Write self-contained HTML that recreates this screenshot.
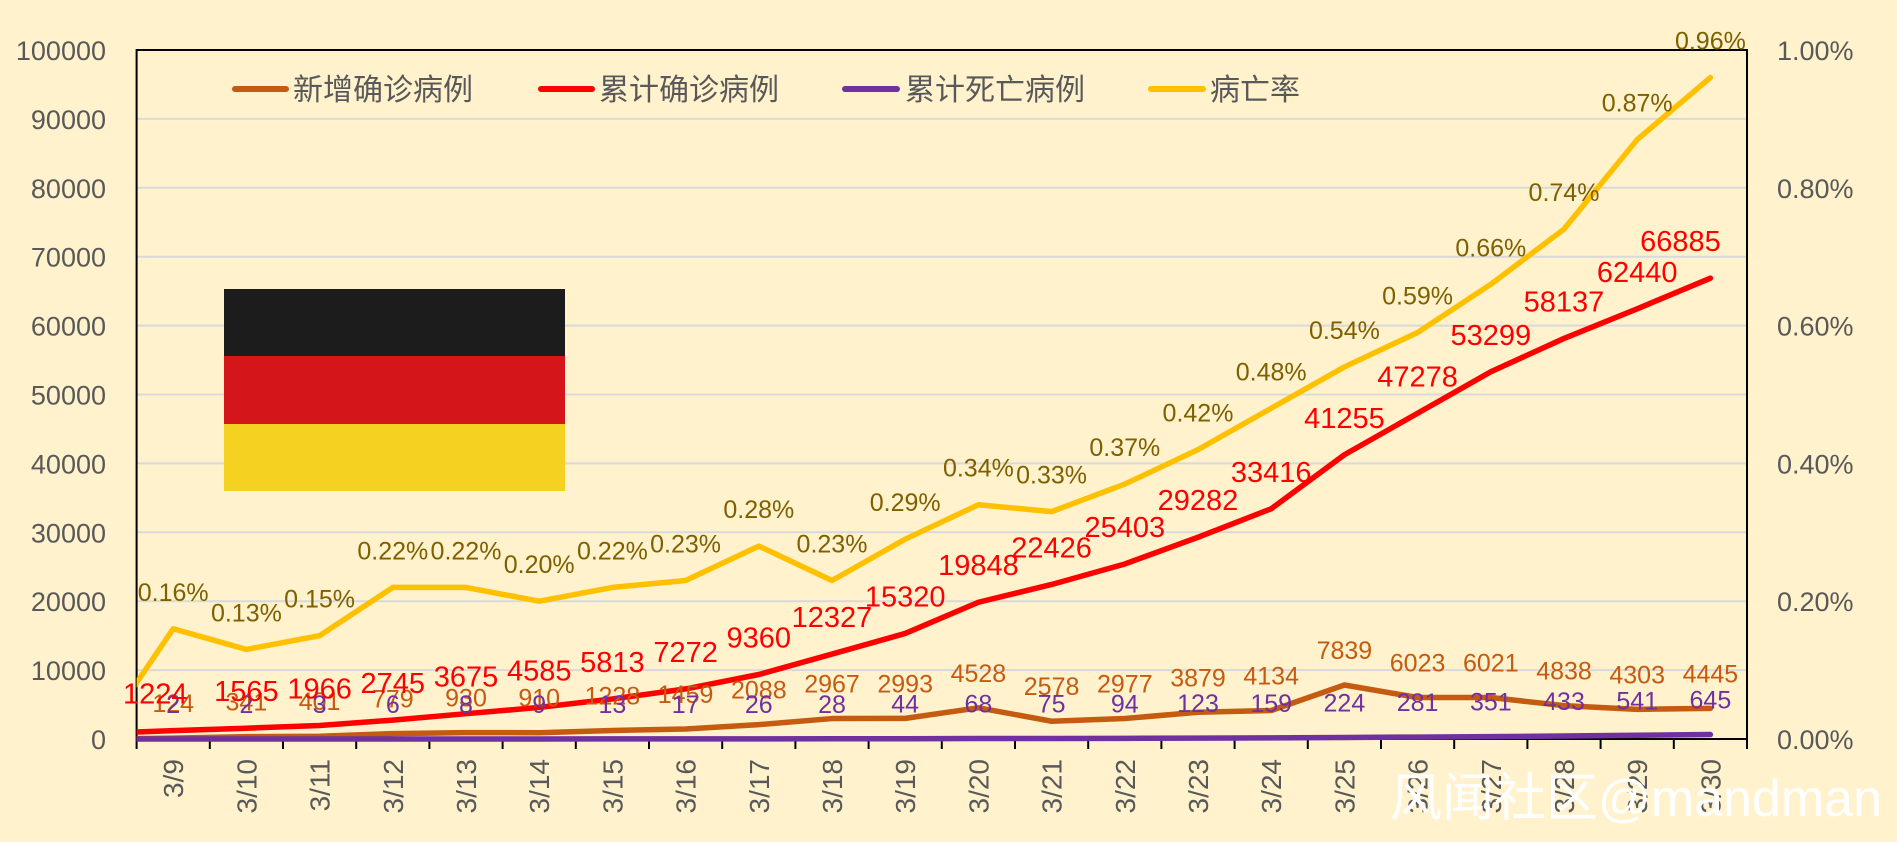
<!DOCTYPE html>
<html><head><meta charset="utf-8"><style>
html,body{margin:0;padding:0;background:#fff2cc;}
svg{display:block;font-family:"Liberation Sans","Noto Sans CJK SC",sans-serif;}
</style></head><body>
<svg id="chart" width="1897" height="842" viewBox="0 0 1897 842" xmlns="http://www.w3.org/2000/svg">
<rect x="0" y="0" width="1897" height="842" fill="#fff2cc"/>
<g id="grid"></g>
<g id="flag">
<rect x="224" y="289" width="341" height="67" fill="#1c1c1c"/>
<rect x="224" y="356" width="341" height="68" fill="#d4161b"/>
<rect x="224" y="424" width="341" height="67" fill="#f5d222"/>
</g>
<g id="axes"></g>
<g id="series"></g>
<g id="labels"></g>
<g id="legend">
<g><line x1="235" y1="89" x2="286" y2="89" stroke="#c55a11" stroke-width="6" stroke-linecap="round"/><text x="293" y="100" font-size="30" fill="#595959">新增确诊病例</text></g>
<g><line x1="541" y1="89" x2="592" y2="89" stroke="#ff0000" stroke-width="6" stroke-linecap="round"/><text x="599" y="100" font-size="30" fill="#595959">累计确诊病例</text></g>
<g><line x1="845" y1="89" x2="897" y2="89" stroke="#7030a0" stroke-width="6" stroke-linecap="round"/><text x="905" y="100" font-size="30" fill="#595959">累计死亡病例</text></g>
<g><line x1="1151" y1="89" x2="1203" y2="89" stroke="#ffc000" stroke-width="6" stroke-linecap="round"/><text x="1210" y="100" font-size="30" fill="#595959">病亡率</text></g>
</g>
<text x="1882" y="816" text-anchor="end" font-size="52" fill="#ffffff">风闻社区@mandman</text>
</svg>
<script>
const categories=["3/9","3/10","3/11","3/12","3/13","3/14","3/15","3/16","3/17","3/18","3/19","3/20","3/21","3/22","3/23","3/24","3/25","3/26","3/27","3/28","3/29","3/30"];
const newCases=[124,341,401,779,930,910,1228,1459,2088,2967,2993,4528,2578,2977,3879,4134,7839,6023,6021,4838,4303,4445];
const cumCases=[1224,1565,1966,2745,3675,4585,5813,7272,9360,12327,15320,19848,22426,25403,29282,33416,41255,47278,53299,58137,62440,66885];
const deaths=[2,2,3,6,8,9,13,17,26,28,44,68,75,94,123,159,224,281,351,433,541,645];
const rate=[0.16,0.13,0.15,0.22,0.22,0.20,0.22,0.23,0.28,0.23,0.29,0.34,0.33,0.37,0.42,0.48,0.54,0.59,0.66,0.74,0.87,0.96];
const leftTicks=[0,10000,20000,30000,40000,50000,60000,70000,80000,90000,100000];
const rightTicks=[0,0.2,0.4,0.6,0.8,1.0];
// values before first category (clipped at left edge)
const leadCum=[808];const leadNew=[0];const leadDeaths=[0];const leadRate=[0.003];

const NS="http://www.w3.org/2000/svg";
const L=136.6,R=1747,T=50,B=739;
const cw=(R-L)/categories.length;
const x=i=>L+cw*(i+0.5);
const yL=v=>B-(v/100000)*(B-T);
const yR=v=>B-(v/1.0)*(B-T);
function mk(tag,attrs,parent){const e=document.createElementNS(NS,tag);for(const k in attrs)e.setAttribute(k,attrs[k]);parent.appendChild(e);return e;}
const grid=document.getElementById('grid'),axes=document.getElementById('axes'),series=document.getElementById('series'),labels=document.getElementById('labels');
leftTicks.forEach(v=>{
  if(v>0&&v<100000){const g=mk('line',{x1:L,x2:R,y1:yL(v),y2:yL(v),stroke:'#d9d9d9','stroke-width':2},grid);
  
  }
  const t=mk('text',{x:106,y:yL(v)+10,'text-anchor':'end','font-size':27,fill:'#595959'},axes);t.textContent=v;
  
  
});
rightTicks.forEach(v=>{
  const t=mk('text',{x:1777,y:yR(v)+10,'font-size':27,fill:'#595959'},axes);t.textContent=v.toFixed(2)+'%';
  
  
});
const frame=mk('path',{d:`M${L},${B} L${L},${T} L${R},${T} L${R},${B}`,fill:'none',stroke:'#000','stroke-width':2},axes);


const xa=mk('line',{x1:L,x2:R,y1:B,y2:B,stroke:'#000','stroke-width':2},axes);


for(let i=0;i<=categories.length;i++){mk('line',{x1:L+cw*i,x2:L+cw*i,y1:B,y2:B+10,stroke:'#000','stroke-width':2},axes);}
categories.forEach((c,i)=>{
  const t=mk('text',{transform:`translate(${x(i)+10},${B+20}) rotate(-90)`,'text-anchor':'end','font-size':28,fill:'#595959'},axes);t.textContent=c;
  
  
});
const clip=mk('clipPath',{id:'pc'},document.getElementById('chart'));mk('rect',{x:L,y:T-20,width:R-L,height:B-T+24},clip);
function line(vals,lead,yf,color,name){
  let pts=[[x(-1),yf(lead[0])]].concat(vals.map((v,i)=>[x(i),yf(v)]));
  const p=mk('polyline',{points:pts.map(p=>p.join(',')).join(' '),fill:'none',stroke:color,'stroke-width':5.5,'stroke-linejoin':'round','stroke-linecap':'round','clip-path':'url(#pc)'},series);
  
  
}
line(newCases,leadNew,yL,'#c55a11','new-cases-line');
line(deaths,leadDeaths,yL,'#7030a0','cumulative-deaths-line');
line(cumCases,leadCum,yL,'#ff0000','cumulative-cases-line');
line(rate,leadRate,yR,'#ffc000','fatality-rate-line');
function lab(vals,yf,color,size,dy,fmt,name){
  vals.forEach((v,i)=>{const n=vals.length;let dx=0;if(name==='cumulative-cases-label'&&i===n-1)dx=-30;if(name==='cumulative-cases-label'&&i===0)dx=-18;
  const t=mk('text',{x:x(i)+dx,y:yf(v)-dy,'text-anchor':'middle','font-size':size,fill:color},labels);t.textContent=fmt(v);
  
  });
}
lab(newCases,yL,'#c55a11',25,26,v=>v,'new-cases-label');
lab(deaths,yL,'#7030a0',25,26,v=>v,'deaths-label');
lab(rate,yR,'#7f6000',25,28,v=>v.toFixed(2)+'%','rate-label');
lab(cumCases,yL,'#ff0000',29,27,v=>v,'cumulative-cases-label');
</script>
</body></html>
